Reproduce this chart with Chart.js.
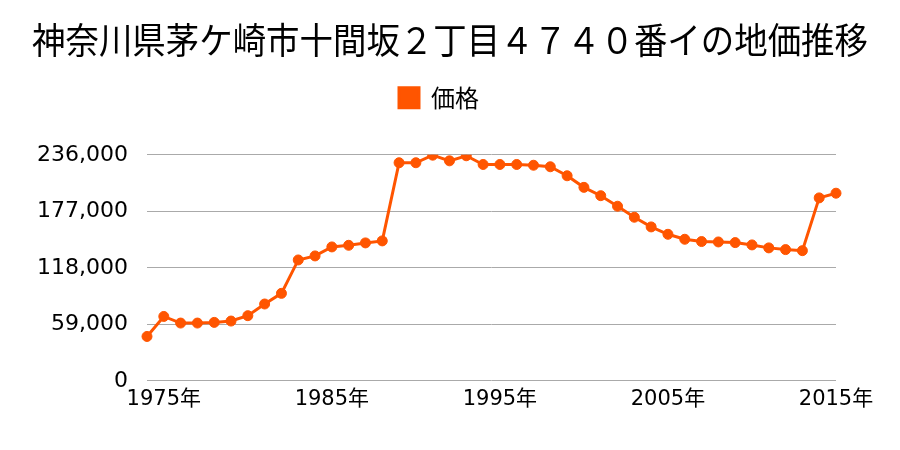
<!DOCTYPE html>
<html lang="ja">
<head>
<meta charset="utf-8">
<title>地価推移</title>
<script src="https://cdn.jsdelivr.net/npm/chart.js@4/dist/chart.umd.min.js"></script>
<style>
  html, body { margin: 0; padding: 0; background: #fff; }
  #wrap { width: 900px; height: 450px; }
</style>
</head>
<body>
<div id="wrap"><canvas id="chart-chika"></canvas></div>
<script>
// 年（カテゴリ）
const years = [
  1974, 1975, 1976, 1977, 1978, 1979, 1980, 1981, 1982, 1983,
  1984, 1985, 1986, 1987, 1988, 1989, 1990, 1991, 1992, 1993,
  1994, 1995, 1996, 1997, 1998, 1999, 2000, 2001, 2002, 2003,
  2004, 2005, 2006, 2007, 2008, 2009, 2010, 2011, 2012, 2013,
  2014, 2015,
];

// 価格（円/m²）
const prices = [
  46300, 67200, 60300, 60300, 61000, 62400, 68000, 80200, 91300, 126200,
  130400, 139800, 141500, 144000, 146100, 227700, 227700, 235600, 229700, 235000,
  225900, 225900, 225900, 225100, 223500, 214100, 202000, 193300, 182300, 170800,
  160700, 153000, 147800, 145400, 145000, 144300, 141900, 138800, 137000, 135900,
  191000, 195900,
];

const yTicks = [0, 59000, 118000, 177000, 236000];
const xLabelYears = [1975, 1985, 1995, 2005, 2015];

const TITLE = '神奈川県茅ケ崎市十間坂２丁目４７４０番イの地価推移';
const ORANGE = '#ff5500';
const FONT = "'DejaVu Sans', 'Noto Sans CJK JP', sans-serif";
const JP_FONT = "'Noto Sans CJK JP', sans-serif";

// 凡例の下に余白を足し、タイトルと凡例を横にずらす
const legendGap = {
  id: 'legendGap',
  beforeInit(chart) {
    const fit = chart.legend.fit;
    chart.legend.fit = function () {
      fit.bind(chart.legend)();
      this.height += 35;
    };
  },
  afterLayout(chart) {
    chart.titleBlock.left += 32;
    chart.titleBlock.right += 32;
    chart.legend.left += 21;
    chart.legend.right += 21;
  },
};

new Chart(document.getElementById('chart-chika'), {
  type: 'line',
  data: {
    labels: years.map(String),
    datasets: [{
      label: '価格',
      data: prices,
      borderColor: ORANGE,
      backgroundColor: ORANGE,
      borderWidth: 3,
      pointRadius: 5,
      pointBorderWidth: 1,
      pointBackgroundColor: ORANGE,
      pointBorderColor: ORANGE,
      tension: 0,
      fill: false,
    }],
  },
  options: {
    responsive: true,
    maintainAspectRatio: false,
    animation: false,
    layout: { padding: { left: 0, right: 64, top: 0, bottom: 32 } },
    plugins: {
      title: {
        display: true,
        text: TITLE,
        color: '#000',
        font: { family: JP_FONT, size: 36.5, weight: 'normal', lineHeight: 1.2 },
        padding: { top: 18, bottom: 4 },
      },
      legend: {
        display: true,
        labels: {
          color: '#000',
          font: { family: JP_FONT, size: 24 },
          boxWidth: 20,
          boxHeight: 20,
          padding: 20,
        },
      },
      tooltip: { enabled: false },
    },
    scales: {
      x: {
        offset: false,
        grid: { display: false, drawTicks: false },
        border: { display: false },
        ticks: {
          autoSkip: false,
          maxRotation: 0,
          color: '#000',
          font: { family: FONT, size: 21 },
          padding: 6,
          callback: (v, i) => xLabelYears.includes(years[i]) ? years[i] + '年' : '',
        },
      },
      y: {
        min: 0,
        max: 236000,
        afterFit: s => { s.width = 147; },
        afterBuildTicks: s => { s.ticks = yTicks.map(v => ({ value: v })); },
        grid: { color: '#aaaaaa', lineWidth: 1, drawTicks: false },
        border: { display: false },
        ticks: {
          color: '#000',
          font: { family: FONT, size: 22 },
          padding: 19,
          callback: v => v.toLocaleString('en-US'),
        },
      },
    },
  },
  plugins: [legendGap],
});
</script>
</body>
</html>
